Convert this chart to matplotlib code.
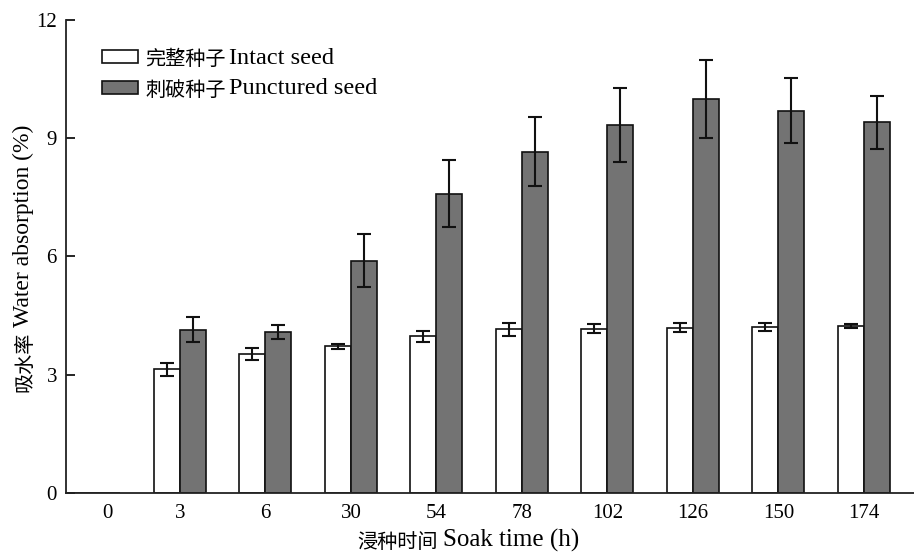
import matplotlib
matplotlib.use("Agg")
import matplotlib.pyplot as plt
import matplotlib.transforms as mtransforms
from matplotlib.patches import Rectangle
import numpy as np

categories = ["0", "3", "6", "30", "54", "78", "102", "126", "150", "174"]
intact = [0, 3.13, 3.53, 3.72, 3.97, 4.15, 4.16, 4.19, 4.21, 4.22]
intact_err = [0, 0.16, 0.15, 0.06, 0.14, 0.16, 0.11, 0.12, 0.11, 0.05]
punctured = [0, 4.14, 4.08, 5.89, 7.59, 8.66, 9.33, 10.0, 9.70, 9.40]
punctured_err = [0, 0.32, 0.18, 0.68, 0.85, 0.88, 0.94, 0.99, 0.82, 0.67]
yticks = [0, 3, 6, 9, 12]
series_cn = ["完整种子", "刺破种子"]
series_en = ["Intact seed", "Punctured seed"]
series_colors = ["white", "#737373"]

SERIF = ['Liberation Serif', 'Noto Sans CJK SC']
CJK = ['Noto Sans CJK SC', 'Liberation Serif']
plt.rcParams['font.family'] = SERIF

W, H = 914, 552
fig = plt.figure(figsize=(W / 100, H / 100), dpi=100)
ax = fig.add_axes([66 / W, (H - 492.7) / H, 1 - 66 / W, (492.7 - 20) / H])


def fx(px):
    return px / W


def fy(py):
    return (H - py) / H


x = np.arange(len(categories))
w = 0.304
ekw = dict(ecolor='#111111', elinewidth=1.5, capsize=5, capthick=1.5)

ax.bar(x - w / 2, intact, w, color=series_colors[0], edgecolor='#111111', linewidth=1.2)
ax.bar(x + w / 2, punctured, w, color=series_colors[1], edgecolor='#111111', linewidth=1.2)
for xi, v, e in zip(x - w / 2, intact, intact_err):
    if v > 0:
        ax.errorbar(xi, v, yerr=e, fmt='none', **ekw)
for xi, v, e in zip(x + w / 2, punctured, punctured_err):
    if v > 0:
        ax.errorbar(xi, v, yerr=e, fmt='none', **ekw)

ax.set_xlim(-0.333, 9.585)
ax.set_ylim(0, 12)
ax.set_yticks(yticks)
ax.set_yticklabels([str(t) for t in yticks])
ax.set_xticks(x)
ax.set_xticklabels(categories)
ax.tick_params(axis='y', direction='in', length=6.5, width=1.2, pad=6.5, labelsize=15)
ax.tick_params(axis='x', length=0, pad=8, labelsize=15)
# the "0" label sits a little right of its slot in the original
lbl0 = ax.get_xticklabels()[0]
lbl0.set_transform(lbl0.get_transform() +
                   mtransforms.ScaledTranslation(13 / 100, 0, fig.dpi_scale_trans))
for s in ['top', 'right']:
    ax.spines[s].set_visible(False)
for s in ['left', 'bottom']:
    ax.spines[s].set_linewidth(1.3)
    ax.spines[s].set_color('#222222')

# legend (manual, mixed font sizes for Chinese / English parts)
row_base = [63.5, 94.5]
for i in range(2):
    b = row_base[i]
    fig.patches.append(Rectangle((fx(101.7), fy(b - 0.5)), fx(138.3) - fx(101.7),
                                 fy(b - 13.2) - fy(b - 0.5),
                                 transform=fig.transFigure, facecolor=series_colors[i],
                                 edgecolor='#111111', linewidth=1.2))
    fig.text(fx(145), fy(b + 1.5), series_cn[i], family=CJK, fontsize=14.5,
             ha='left', va='baseline')
    fig.text(fx(229), fy(b), series_en[i], family=SERIF, fontsize=17.5,
             ha='left', va='baseline')

# x label
fig.text(fx(438), fy(548.5), '浸种时间', family=CJK, fontsize=14.5, ha='right', va='baseline')
fig.text(fx(443), fy(547), 'Soak time (h)', family=SERIF, fontsize=18, ha='left', va='baseline')

# y label (rotated)
fig.text(fx(30.5), fy(392), '吸水率', family=CJK, fontsize=14.5, rotation=90,
         rotation_mode='anchor', ha='left', va='baseline')
fig.text(fx(29), fy(327), 'Water absorption (%)', family=SERIF, fontsize=17, rotation=90,
         rotation_mode='anchor', ha='left', va='baseline')

fig.savefig('out.png', dpi=100)
